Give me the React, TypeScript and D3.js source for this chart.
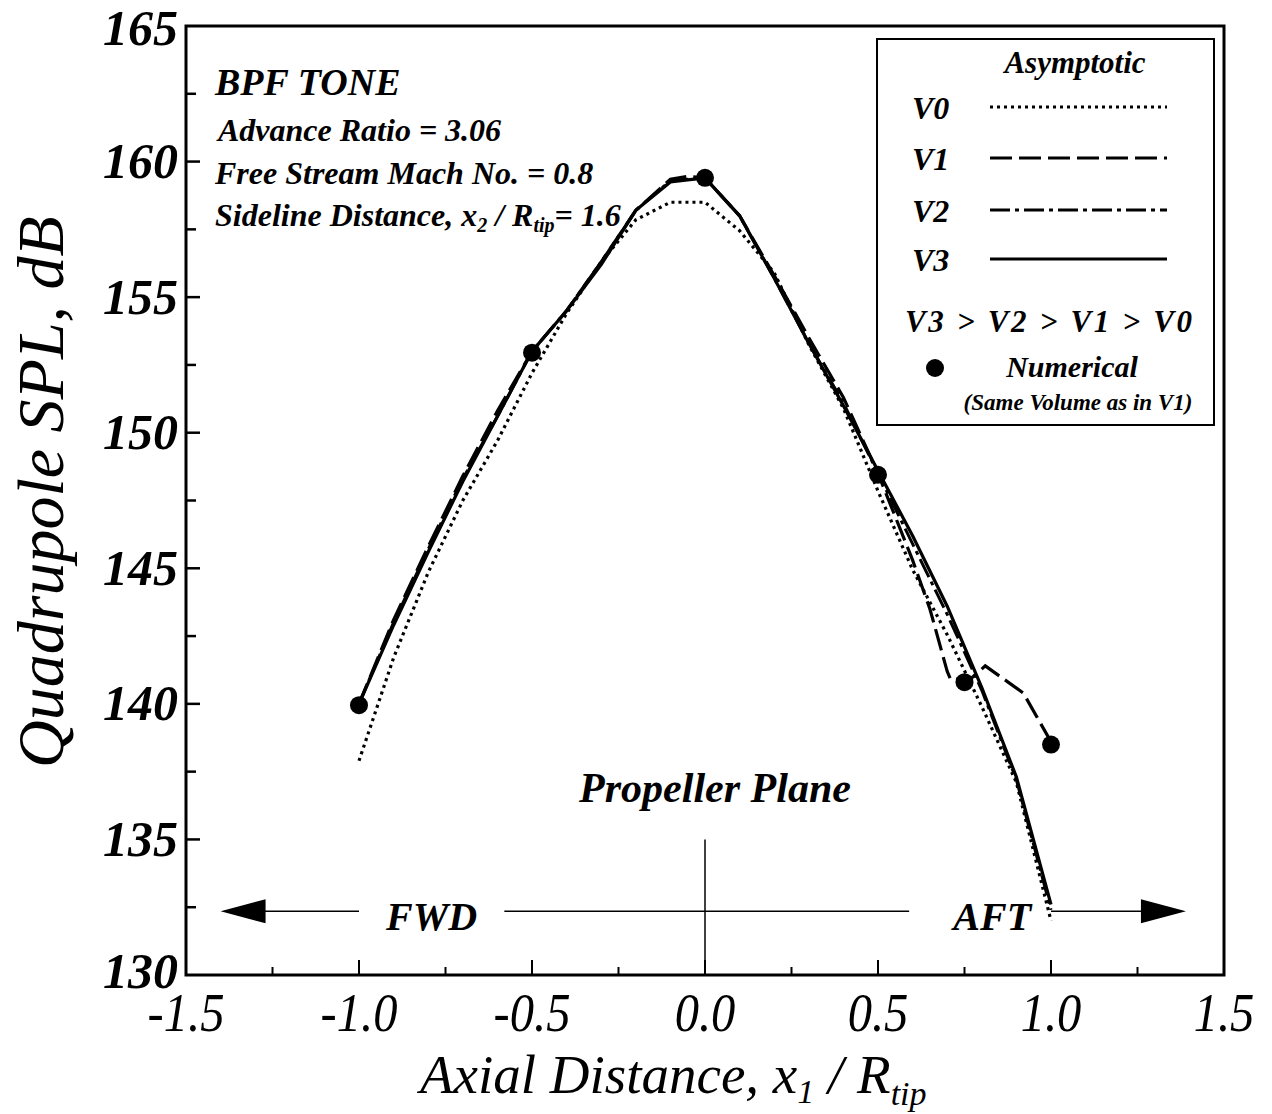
import React, { useEffect, useRef } from "react";
import * as d3 from "d3";

// axial positions x1/Rtip
const gridX = [-1.0, -0.9, -0.8, -0.7, -0.6, -0.5, -0.4, -0.3, -0.2, -0.1, 0.0, 0.1, 0.2, 0.3, 0.4, 0.5, 0.6, 0.7, 0.8, 0.9, 1.0];

// Asymptotic results (dB)
const v0SPL = [137.9, 141.7, 144.85, 147.5, 149.7, 152.2, 154.4, 156.3, 157.85, 158.5, 158.5, 157.45, 155.9, 153.25, 150.9, 147.85, 144.95, 142.55, 139.9, 137.1, 132.0];
const v2SPL = [140.0, 143.0, 145.7, 148.3, 150.6, 153.0, 154.5, 156.3, 158.2, 159.3, 159.4, 158.0, 155.7, 153.3, 151.1, 148.5, 145.9, 143.3, 140.5, 137.2, 132.4];
const v3SPL = [140.0, 142.9, 145.6, 148.2, 150.6, 153.0, 154.5, 156.2, 158.2, 159.25, 159.4, 158.0, 155.7, 153.3, 151.0, 148.6, 146.2, 143.6, 140.6, 137.3, 132.6];

const v1X = [-1.0, -0.9, -0.8, -0.7, -0.6, -0.5, -0.4, -0.3, -0.2, -0.1, -0.05, 0.0, 0.1, 0.2, 0.3, 0.4, 0.5, 0.6, 0.65, 0.7, 0.71, 0.77, 0.81, 0.92, 1.0];
const v1SPL = [140.0, 143.1, 145.8, 148.4, 150.8, 153.0, 154.5, 156.3, 158.2, 159.35, 159.45, 159.4, 158.0, 155.8, 153.5, 151.3, 148.5, 145.3, 143.5, 141.2, 140.9, 140.95, 141.4, 140.4, 138.6];

// Numerical (same volume as V1)
const numX = [-1.0, -0.5, 0.0, 0.5, 0.75, 1.0];
const numSPL = [139.95, 152.95, 159.4, 148.45, 140.8, 138.5];

const xTickLabels = ["-1.5", "-1.0", "-0.5", "0.0", "0.5", "1.0", "1.5"];
const yTickLabels = ["130", "135", "140", "145", "150", "155", "160", "165"];

const serif = "'Liberation Serif', 'Times New Roman', serif";

const Chart = () => {
  const chartEl = useRef(null);

  useEffect(() => {
    const width = 1272,
      height = 1114;
    const left = 186,
      right = 1224,
      top = 26,
      bottom = 975;

    const svg = d3.select(chartEl.current).attr("width", width).attr("height", height);
    svg.selectAll("*").remove();

    const xScale = d3.scaleLinear().domain([-1.5, 1.5]).range([left, right]);
    const yScale = d3.scaleLinear().domain([130, 165]).range([bottom, top]);

    svg.append("rect").attr("width", width).attr("height", height).attr("fill", "#fff");

    // ticks (inward, no labels here)
    const g = svg.append("g");
    d3.range(-1.25, 1.5, 0.25).forEach((v) => {
      const major = Math.abs(v * 2 - Math.round(v * 2)) < 1e-6;
      g.append("line")
        .attr("x1", xScale(v))
        .attr("x2", xScale(v))
        .attr("y1", bottom)
        .attr("y2", bottom - (major ? 15 : 8))
        .attr("stroke", "#000")
        .attr("stroke-width", 2);
    });
    d3.range(132.5, 165, 2.5).forEach((v) => {
      const major = v % 5 === 0;
      g.append("line")
        .attr("x1", left)
        .attr("x2", left + (major ? 14 : 10))
        .attr("y1", yScale(v))
        .attr("y2", yScale(v))
        .attr("stroke", "#000")
        .attr("stroke-width", 2.5);
    });

    // frame
    svg
      .append("rect")
      .attr("x", left)
      .attr("y", top)
      .attr("width", right - left)
      .attr("height", bottom - top)
      .attr("fill", "none")
      .attr("stroke", "#000")
      .attr("stroke-width", 3);

    // tick labels
    yTickLabels.forEach((t) => {
      const nudge = t === "165" ? 2 : t === "130" ? -4 : 0;
      svg
        .append("text")
        .attr("x", left - 8)
        .attr("y", yScale(+t) + nudge)
        .attr("dy", "0.33em")
        .attr("text-anchor", "end")
        .attr("font-family", serif)
        .attr("font-style", "italic")
        .attr("font-weight", "bold")
        .attr("font-size", 50)
        .text(t);
    });
    xTickLabels.forEach((t) => {
      svg
        .append("text")
        .attr("transform", `translate(${xScale(+t)},1031) scale(0.9,1)`)
        .attr("text-anchor", "middle")
        .attr("font-family", serif)
        .attr("font-style", "italic")
        .attr("font-size", 54)
        .text(t);
    });

    // axis titles
    const xt = svg
      .append("text")
      .attr("x", 420)
      .attr("y", 1093)
      .attr("font-family", serif)
      .attr("font-style", "italic")
      .attr("font-size", 55);
    xt.append("tspan").text("Axial Distance, x");
    xt.append("tspan").attr("dy", 10).attr("font-size", 34).text("1");
    xt.append("tspan").attr("dy", -10).text(" / R");
    xt.append("tspan").attr("dy", 12).attr("font-size", 34).text("tip");

    svg
      .append("text")
      .attr("transform", "translate(63,492) rotate(-90)")
      .attr("text-anchor", "middle")
      .attr("font-family", serif)
      .attr("font-style", "italic")
      .attr("font-size", 66)
      .text("Quadrupole SPL, dB");

    // propeller plane marker and FWD / AFT arrow
    const ink = svg.append("g").attr("stroke", "#000");
    ink
      .append("line")
      .attr("x1", xScale(0))
      .attr("x2", xScale(0))
      .attr("y1", yScale(135))
      .attr("y2", bottom)
      .attr("stroke-width", 1.5);
    const arrowY = yScale(132.35);
    [
      [-1.31, -1.0],
      [-0.58, 0.59],
      [1.0, 1.26],
    ].forEach(([a, b]) => {
      ink
        .append("line")
        .attr("x1", xScale(a))
        .attr("x2", xScale(b))
        .attr("y1", arrowY)
        .attr("y2", arrowY)
        .attr("stroke-width", 1.5);
    });
    const headL = [
      [xScale(-1.4), arrowY],
      [xScale(-1.27), arrowY - 12],
      [xScale(-1.27), arrowY + 12],
    ];
    const headR = [
      [xScale(1.39), arrowY],
      [xScale(1.26), arrowY - 12],
      [xScale(1.26), arrowY + 12],
    ];
    [headL, headR].forEach((h) => {
      svg.append("path").attr("d", d3.line()(h) + "Z").attr("fill", "#000");
    });

    const bi = (sel) =>
      sel.attr("font-family", serif).attr("font-style", "italic").attr("font-weight", "bold");

    bi(svg.append("text")).attr("x", xScale(-0.79)).attr("y", 930).attr("text-anchor", "middle").attr("font-size", 40).text("FWD");
    bi(svg.append("text")).attr("x", xScale(0.83)).attr("y", 930).attr("text-anchor", "middle").attr("font-size", 40).text("AFT");
    bi(svg.append("text")).attr("x", 715).attr("y", 802).attr("text-anchor", "middle").attr("font-size", 42).text("Propeller Plane");

    // case annotations
    bi(svg.append("text")).attr("x", 215).attr("y", 95).attr("font-size", 38).text("BPF TONE");
    bi(svg.append("text")).attr("x", 218).attr("y", 141).attr("font-size", 32).text("Advance Ratio = 3.06");
    bi(svg.append("text")).attr("x", 215).attr("y", 184).attr("font-size", 32).text("Free Stream Mach No. = 0.8");
    const side = bi(svg.append("text")).attr("x", 215).attr("y", 226).attr("font-size", 32);
    side.append("tspan").text("Sideline Distance, x");
    side.append("tspan").attr("dy", 6).attr("font-size", 20).text("2");
    side.append("tspan").attr("dy", -6).text(" / R");
    side.append("tspan").attr("dy", 6).attr("font-size", 20).text("tip");
    side.append("tspan").attr("dy", -6).text("= 1.6");

    // curves
    const line = d3
      .line()
      .x((d) => xScale(d[0]))
      .y((d) => yScale(d[1]));

    const series = [
      { xs: gridX, ys: v0SPL, dash: "3,4", w: 3.2 },
      { xs: v1X, ys: v1SPL, dash: "22,7", w: 3.2 },
      { xs: gridX, ys: v2SPL, dash: "20,5,4,5", w: 3 },
      { xs: gridX, ys: v3SPL, dash: null, w: 3.2 },
    ];
    series.forEach((s) => {
      svg
        .append("path")
        .datum(s.xs.map((x, i) => [x, s.ys[i]]))
        .attr("d", line)
        .attr("fill", "none")
        .attr("stroke", "#000")
        .attr("stroke-width", s.w)
        .attr("stroke-dasharray", s.dash);
    });

    svg
      .selectAll(".dot")
      .data(numX.map((x, i) => [x, numSPL[i]]))
      .enter()
      .append("circle")
      .attr("class", "dot")
      .attr("cx", (d) => xScale(d[0]))
      .attr("cy", (d) => yScale(d[1]))
      .attr("r", 9)
      .attr("fill", "#000");

    // legend
    const lg = svg.append("g");
    lg.append("rect")
      .attr("x", 877)
      .attr("y", 39)
      .attr("width", 337)
      .attr("height", 386)
      .attr("fill", "#fff")
      .attr("stroke", "#000")
      .attr("stroke-width", 2);
    bi(lg.append("text")).attr("x", 1075).attr("y", 73).attr("text-anchor", "middle").attr("font-size", 31).text("Asymptotic");
    const names = ["V0", "V1", "V2", "V3"];
    const rows = [107, 158, 210, 259];
    names.forEach((n, i) => {
      bi(lg.append("text")).attr("x", 912).attr("y", rows[i] + 12).attr("font-size", 32).text(n);
      lg.append("line")
        .attr("x1", 990)
        .attr("x2", 1167)
        .attr("y1", rows[i])
        .attr("y2", rows[i])
        .attr("stroke", "#000")
        .attr("stroke-width", series[i].w)
        .attr("stroke-dasharray", series[i].dash);
    });
    bi(lg.append("text"))
      .attr("x", 905)
      .attr("y", 332)
      .attr("font-size", 31)
      .attr("textLength", 287)
      .attr("lengthAdjust", "spacing")
      .text("V3 > V2 > V1 > V0");
    lg.append("circle").attr("cx", 935).attr("cy", 368).attr("r", 9).attr("fill", "#000");
    bi(lg.append("text")).attr("x", 1072).attr("y", 377).attr("text-anchor", "middle").attr("font-size", 30).text("Numerical");
    bi(lg.append("text")).attr("x", 1078).attr("y", 410).attr("text-anchor", "middle").attr("font-size", 23).text("(Same Volume as in V1)");
  }, [chartEl]);

  return <svg ref={chartEl} style={{ position: "absolute", left: 0, top: 0, display: "block" }}></svg>;
};

export default function App() {
  return <Chart />;
}
